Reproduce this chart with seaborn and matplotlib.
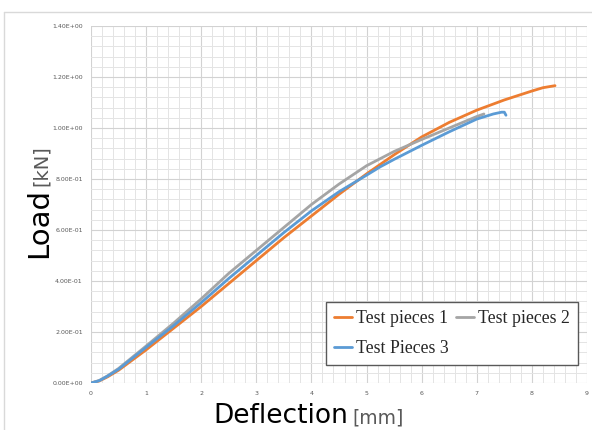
import numpy as np
import pandas as pd
import matplotlib
matplotlib.use("Agg")
import matplotlib.pyplot as plt
import seaborn as sns
from matplotlib.ticker import MultipleLocator, FuncFormatter
from matplotlib.lines import Line2D

series_names = ["Test pieces 1", "Test pieces 2", "Test Pieces 3"]

x1 = [0, 0.15, 0.3, 0.5, 1.0, 1.5, 2.0, 2.5, 3.0, 3.5, 4.0, 4.5, 5.0, 5.5, 6.0, 6.5, 7.0, 7.5, 8.0, 8.2, 8.42]
y1 = [0, 0.008, 0.024, 0.05, 0.13, 0.215, 0.30, 0.39, 0.48, 0.57, 0.655, 0.74, 0.82, 0.895, 0.965, 1.022, 1.07, 1.11, 1.145, 1.158, 1.166]

x2 = [0, 0.15, 0.3, 0.5, 1.0, 1.5, 2.0, 2.5, 3.0, 3.5, 4.0, 4.5, 5.0, 5.5, 6.0, 6.5, 7.0, 7.13]
y2 = [0, 0.01, 0.028, 0.057, 0.145, 0.235, 0.33, 0.43, 0.52, 0.61, 0.70, 0.78, 0.852, 0.908, 0.955, 1.0, 1.045, 1.055]

x3 = [0, 0.15, 0.3, 0.5, 1.0, 1.5, 2.0, 2.5, 3.0, 3.5, 4.0, 4.5, 5.0, 5.25, 5.5, 6.0, 6.5, 7.0, 7.3, 7.45, 7.5, 7.53]
y3 = [0, 0.009, 0.027, 0.054, 0.14, 0.225, 0.315, 0.41, 0.50, 0.59, 0.675, 0.75, 0.815, 0.848, 0.877, 0.932, 0.985, 1.035, 1.055, 1.062, 1.062, 1.05]

x_ticks = list(range(0, 10))
y_ticks = [0.0, 0.2, 0.4, 0.6, 0.8, 1.0, 1.2, 1.4]

colors = ["#ED7D31", "#A5A5A5", "#5B9BD5"]

df = pd.concat([
    pd.DataFrame({"x": x1, "y": y1, "s": series_names[0]}),
    pd.DataFrame({"x": x2, "y": y2, "s": series_names[1]}),
    pd.DataFrame({"x": x3, "y": y3, "s": series_names[2]}),
], ignore_index=True)

sns.set_theme(style="white")
plt.rcParams["font.family"] = ["DejaVu Sans"]

fig = plt.figure(figsize=(5.92, 4.30), dpi=100)
ax = fig.add_axes([91 / 592, 1 - 383 / 430, (587 - 91) / 592, (383 - 26) / 430])

sns.lineplot(data=df, x="x", y="y", hue="s", palette=dict(zip(series_names, colors)),
             linewidth=2.0, ax=ax, legend=False, estimator=None, sort=False)

ax.set_xlim(0, 9)
ax.set_ylim(0, 1.4)
ax.set_xticks(x_ticks)
ax.set_yticks(y_ticks)
ax.xaxis.set_minor_locator(MultipleLocator(0.2))
ax.yaxis.set_minor_locator(MultipleLocator(0.04))
ax.yaxis.set_major_formatter(FuncFormatter(lambda v, p: f"{v:.2E}"))
ax.grid(which="major", color="#d2d2d2", linewidth=0.8)
ax.grid(which="minor", color="#e4e4e4", linewidth=0.7)
ax.set_axisbelow(True)
ax.tick_params(which="both", length=0)
ax.tick_params(axis="both", labelsize=4.5, labelcolor="#595959", pad=6)
for sp in ax.spines.values():
    sp.set_visible(False)
ax.set_xlabel("")
ax.set_ylabel("")

# axis titles
fig.text(348 / 592, 1 - 423 / 430, "Deflection", fontsize=19, ha="right", va="baseline", color="black")
fig.text(352 / 592, 1 - 423 / 430, "[mm]", fontsize=13.5, ha="left", va="baseline", color="#595959")
fig.text(47 / 592, 1 - 258 / 430, "Load", fontsize=21, rotation=90, rotation_mode="anchor",
         ha="left", va="baseline", color="black")
fig.text(47 / 592, 1 - 186 / 430, "[kN]", fontsize=14, rotation=90, rotation_mode="anchor",
         ha="left", va="baseline", color="#595959")

# legend (row-wise ordering)
handles = [Line2D([], [], color=c, linewidth=2) for c in colors]
order = [0, 2, 1]
leg = ax.legend([handles[i] for i in order], [series_names[i] for i in order], ncol=2,
                loc="upper left", bbox_to_anchor=(326 / 592, 1 - 302 / 430),
                bbox_transform=fig.transFigure, frameon=True, fancybox=False,
                prop={"family": "Liberation Serif", "size": 12.8},
                handlelength=1.0, handletextpad=0.25, columnspacing=0.4,
                labelspacing=0.75, borderpad=0.45, borderaxespad=0)
leg.get_frame().set_edgecolor("#595959")
leg.get_frame().set_linewidth(1.0)
leg.get_frame().set_facecolor("white")
leg.get_frame().set_alpha(1)

# outer chart border
fig.add_artist(Line2D([4 / 592, 4 / 592], [0, 1 - 12 / 430], color="#d9d9d9", linewidth=1, transform=fig.transFigure))
fig.add_artist(Line2D([4 / 592, 1], [1 - 12 / 430, 1 - 12 / 430], color="#d9d9d9", linewidth=1, transform=fig.transFigure))

fig.savefig("out.png", dpi=100)
